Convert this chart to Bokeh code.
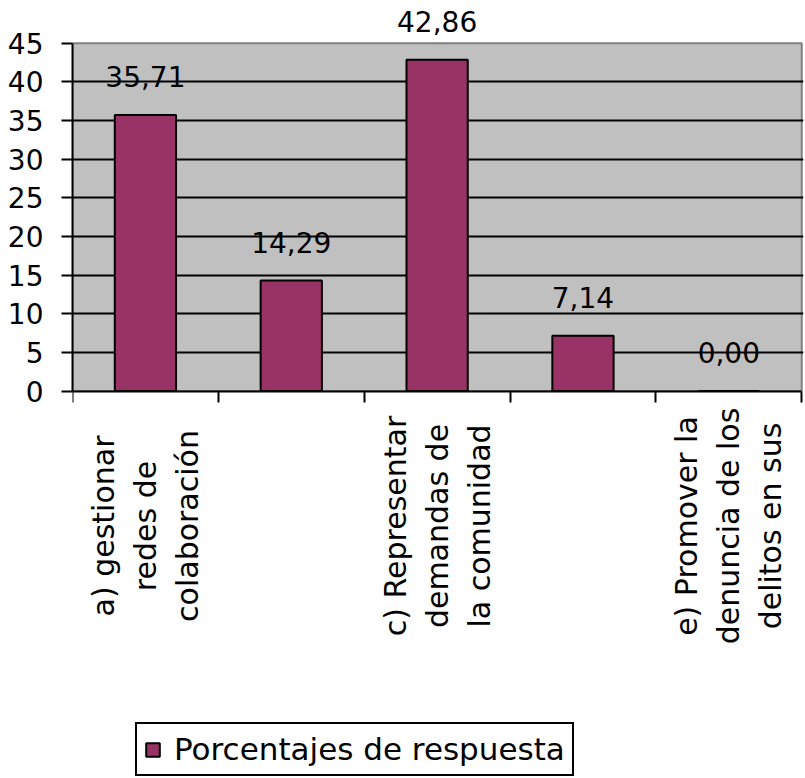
import math
from bokeh.plotting import figure
from bokeh.models import (Range1d, FixedTicker, LabelSet, ColumnDataSource,
                          Legend, LegendItem)
from bokeh.embed import file_html
from bokeh.resources import INLINE
from bokeh.core.properties import value

# ---- data ----
categories = [
    "a) gestionar redes de colaboración",
    "b)",
    "c) Representar demandas de la comunidad",
    "d)",
    "e) Promover la denuncia de los delitos en sus",
]
tick_labels = [
    "a) gestionar\nredes de\ncolaboración",
    "",
    "c) Representar\ndemandas de\nla comunidad",
    "",
    "e) Promover la\ndenuncia de los\ndelitos en sus",
]
values = [35.71, 14.29, 42.86, 7.14, 0.00]
value_labels = ["35,71", "14,29", "42,86", "7,14", "0,00"]
series_name = "Porcentajes de respuesta"
y_ticks = [0, 5, 10, 15, 20, 25, 30, 35, 40, 45]

# ---- layout helpers ----
n = len(categories)
centers = [i + 0.5 for i in range(n)]
boundaries = [i for i in range(n + 1)]
y_min, y_max = y_ticks[0], y_ticks[-1]
TOP_ROOM = 5.0       # room above the plot area for the value labels
BOTTOM_ROOM = 50.0   # room below the plot area for category labels + legend
RIGHT_ROOM = 0.012   # so the right border of the plot area is visible

FONT = "DejaVu Sans"
BAR = "#993366"

src = ColumnDataSource(dict(x=centers, top=values, label=value_labels, cat=categories))
cat_src = ColumnDataSource(dict(x=centers, y=[y_min] * n, text=tick_labels))

p = figure(width=804, height=777,
           x_range=Range1d(0, n + RIGHT_ROOM),
           y_range=Range1d(y_min - BOTTOM_ROOM, y_max + TOP_ROOM),
           output_backend="svg", toolbar_location=None,
           min_border_left=72, min_border_right=1,
           min_border_top=4, min_border_bottom=0)

p.background_fill_color = "white"
p.border_fill_color = "white"
p.outline_line_color = None

# grey plot area
p.quad(left=[0], right=[n], bottom=[y_min], top=[y_max],
       fill_color="#c0c0c0", line_color="#808080", line_width=2, level="image")

bars = p.vbar(x="x", top="top", width=0.42, source=src,
              fill_color=BAR, line_color="black", line_width=2)

# grid
p.xgrid.visible = False
p.ygrid.ticker = FixedTicker(ticks=y_ticks[1:-1])
p.ygrid.grid_line_color = "black"
p.ygrid.grid_line_width = 2

# y axis
ya = p.yaxis[0]
ya.ticker = FixedTicker(ticks=y_ticks)
ya.bounds = (y_min, y_max)
ya.axis_line_color = "black"
ya.axis_line_width = 2
ya.major_tick_out = 11
ya.major_tick_in = 0
ya.major_tick_line_width = 2
ya.major_tick_line_color = "black"
ya.minor_tick_out = 0
ya.minor_tick_in = 0
ya.major_label_text_font = FONT
ya.major_label_text_font_size = "28px"
ya.major_label_text_color = "black"
ya.major_label_standoff = 18

# x axis at y = 0, ticks between categories
xa = p.xaxis[0]
xa.fixed_location = y_min
xa.ticker = FixedTicker(ticks=boundaries)
xa.bounds = (0, n)
xa.axis_line_color = "black"
xa.axis_line_width = 2
xa.major_tick_out = 11
xa.major_tick_in = 0
xa.major_tick_line_color = "black"
xa.major_tick_line_width = 2
xa.minor_tick_out = 0
xa.minor_tick_in = 0
xa.major_label_overrides = {b: "" for b in boundaries}

# category labels (rotated, multi-line, centred under each category)
p.text(x="x", y="y", text="text", source=cat_src, angle=math.pi / 2,
       y_offset=135, text_align="center", text_baseline="middle",
       text_line_height=1.2,
       text_font=value(FONT), text_font_size="30px", text_color="black")

# data labels
labels = LabelSet(x="x", y="top", text="label", source=src,
                  y_offset=28, text_align="center", text_baseline="alphabetic",
                  text_font=value(FONT), text_font_size="28px", text_color="black")
p.add_layout(labels)

# legend
legend = Legend(items=[LegendItem(label=series_name, renderers=[bars])],
                location=(63, 1), orientation="horizontal",
                glyph_width=17, glyph_height=17, label_standoff=13,
                padding=7, margin=0,
                label_text_font=FONT, label_text_font_size="31px",
                label_text_color="black",
                border_line_color="black", border_line_width=2,
                border_line_alpha=1.0,
                background_fill_color="white", background_fill_alpha=1.0)
p.add_layout(legend, "center")

open("out.html", "w").write(file_html(p, INLINE))
